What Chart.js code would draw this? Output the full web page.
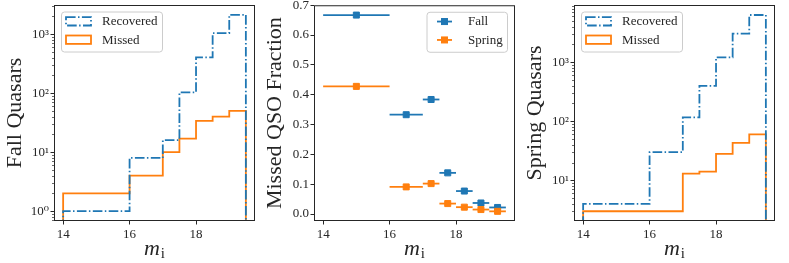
<!DOCTYPE html>
<html>
<head>
<meta charset="utf-8">
<script src="https://cdn.jsdelivr.net/npm/chart.js@4.4.1/dist/chart.umd.min.js"></script>
<style>
  body { margin: 0; background: #fff; width: 789px; height: 263px; position: relative; overflow: hidden; }
  .panel { position: absolute; top: 0; width: 263px; height: 263px; }
</style>
</head>
<body>
<div class="panel" style="left:0px"><canvas id="c-fall" width="263" height="263"></canvas></div>
<div class="panel" style="left:260px"><canvas id="c-frac" width="263" height="263"></canvas></div>
<div class="panel" style="left:520px"><canvas id="c-spring" width="263" height="263"></canvas></div>
<script>
"use strict";

/* ── data ─────────────────────────────────────────────────────── */
const EDGES = [14, 16, 17, 17.5, 18, 18.5, 19, 19.5];
const FALL_RECOVERED = [1, 8, 16, 103, 405, 1040, 2130];
const FALL_MISSED = [2, 4, 10, 17, 34, 40, 50];
const SPRING_RECOVERED = [4, 30, 116, 396, 1210, 3050, 6300];
const SPRING_MISSED = [3, 3, 13, 14, 28, 43, 60];

const BIN_CENTERS = [15, 16.5, 17.25, 17.75, 18.25, 18.75, 19.25];
const BIN_HALF = [1, 0.5, 0.25, 0.25, 0.25, 0.25, 0.25];
const FALL_FRAC = [0.667, 0.333, 0.384, 0.138, 0.077, 0.037, 0.022];
const SPRING_FRAC = [0.428, 0.091, 0.102, 0.035, 0.023, 0.015, 0.009];

const X_TICKS = [14, 16, 18];
const FRAC_TICKS = [0, 0.1, 0.2, 0.3, 0.4, 0.5, 0.6, 0.7];
const X_LIM = [13.725, 19.775];
const FALL_YLIM = [0.682, 3120];
const SPRING_YLIM = [2.05, 9300];
const FRAC_YLIM = [-0.0234, 0.7];

/* ── style ────────────────────────────────────────────────────── */
const BLUE = "#1f77b4";
const ORANGE = "#ff7f0e";
const INK = "#262626";
const LW = 1.8;
const DASHDOT = [9.6, 2.4, 1.5, 2.4];
const FLOOR = 1e-3;   // histogram baseline (0 on a log axis, clipped)
const SERIF = '"Liberation Serif", "DejaVu Serif", serif';
const SUP = { "-": "\u207b", 0: "\u2070", 1: "\u00b9", 2: "\u00b2", 3: "\u00b3", 4: "\u2074",
              5: "\u2075", 6: "\u2076", 7: "\u2077", 8: "\u2078", 9: "\u2079" };

Chart.defaults.font.family = SERIF;
Chart.defaults.color = INK;
Chart.defaults.animation = false;

function stepPoints(edges, counts) {
  const pts = [{ x: edges[0], y: FLOOR }];
  counts.forEach((c, i) => pts.push({ x: edges[i], y: c }, { x: edges[i + 1], y: c }));
  pts.push({ x: edges[edges.length - 1], y: FLOOR });
  return pts;
}

function isPow10(v) {
  const l = Math.log10(v);
  return Math.abs(l - Math.round(l)) < 1e-9;
}

/* ── plugins ──────────────────────────────────────────────────── */
const frame = {
  id: "frame",
  afterDatasetsDraw(chart) {
    const a = chart.chartArea, ctx = chart.ctx;
    ctx.save();
    ctx.strokeStyle = INK;
    ctx.lineWidth = 1;
    ctx.strokeRect(a.left + 0.5, a.top + 0.5, a.right - a.left - 1, a.bottom - a.top - 1);
    // short minor ticks on log axes
    const y = chart.scales.y;
    if (y.type === "logarithmic") {
      ctx.lineWidth = 0.7;
      ctx.beginPath();
      y.ticks.forEach((t) => {
        if (t.major) return;
        const py = Math.round(y.getPixelForValue(t.value)) + 0.5;
        ctx.moveTo(a.left - 2, py); ctx.lineTo(a.left, py);
      });
      ctx.stroke();
    }
    ctx.restore();
  },
};

const xTitle = {
  id: "xTitle",
  afterDraw(chart) {
    const a = chart.chartArea, ctx = chart.ctx;
    ctx.save();
    ctx.fillStyle = INK;
    ctx.textBaseline = "alphabetic";
    ctx.font = "italic 22px " + SERIF;
    const wm = ctx.measureText("m").width;
    ctx.font = "15px " + SERIF;
    const wi = ctx.measureText("i").width;
    const x0 = (a.left + a.right) / 2 - (wm + wi + 1) / 2;
    ctx.font = "italic 22px " + SERIF;
    ctx.fillText("m", x0, 255);
    ctx.font = "15px " + SERIF;
    ctx.fillText("i", x0 + wm + 1, 258);
    ctx.restore();
  },
};

function roundBox(ctx, x, y, w, h, r) {
  ctx.beginPath();
  ctx.moveTo(x + r, y);
  ctx.arcTo(x + w, y, x + w, y + h, r);
  ctx.arcTo(x + w, y + h, x, y + h, r);
  ctx.arcTo(x, y + h, x, y, r);
  ctx.arcTo(x, y, x + w, y, r);
  ctx.closePath();
}

const boxLegend = {
  id: "boxLegend",
  afterDraw(chart, args, opts) {
    const a = chart.chartArea, ctx = chart.ctx;
    const w = opts.width, h = 40;
    const bx = opts.align === "right" ? a.right - 8 - w : a.left + 7;
    const by = a.top + 6.5;
    ctx.save();
    roundBox(ctx, bx + 0.5, by + 0.5, w, h, 3);
    ctx.fillStyle = "rgba(255,255,255,0.8)";
    ctx.fill();
    ctx.strokeStyle = "#cccccc";
    ctx.lineWidth = 1;
    ctx.stroke();
    ctx.font = "13px " + SERIF;
    ctx.textBaseline = "middle";
    chart.data.datasets.forEach((ds, i) => {
      const cy = by + 9.8 + i * 18.4;
      ctx.strokeStyle = ds.borderColor;
      ctx.lineWidth = LW;
      if (opts.kind === "hist") {
        ctx.setLineDash(ds.borderDash || []);
        ctx.strokeRect(bx + 5, cy - 4.2, 25, 8.4);
        ctx.setLineDash([]);
      } else {
        ctx.beginPath();
        ctx.moveTo(bx + 10.5, cy); ctx.lineTo(bx + 25.5, cy);
        ctx.stroke();
        ctx.fillStyle = ds.backgroundColor;
        ctx.lineWidth = 1;
        ctx.fillRect(bx + 15, cy - 3, 6, 6);
        ctx.strokeRect(bx + 15, cy - 3, 6, 6);
      }
      ctx.fillStyle = INK;
      ctx.fillText(ds.label, bx + opts.textX, cy + 0.5);
    });
    ctx.restore();
  },
};

const errorBars = {
  id: "errorBars",
  beforeDatasetsDraw(chart) {
    const { ctx, scales: { x, y } } = chart;
    chart.data.datasets.forEach((ds) => {
      if (!ds.xerr) return;
      ctx.save();
      ctx.strokeStyle = ds.borderColor;
      ctx.lineWidth = LW;
      ds.data.forEach((p, i) => {
        const py = y.getPixelForValue(p.y);
        ctx.beginPath();
        ctx.moveTo(x.getPixelForValue(p.x - ds.xerr[i]), py);
        ctx.lineTo(x.getPixelForValue(p.x + ds.xerr[i]), py);
        ctx.stroke();
      });
      ctx.restore();
    });
  },
};

/* ── shared scale setup ───────────────────────────────────────── */
function xScale() {
  return {
    type: "linear", min: X_LIM[0], max: X_LIM[1],
    afterBuildTicks: (s) => { s.ticks = X_TICKS.map(v => ({ value: v })); },
    afterFit: (s) => { s.height = 42; s.paddingLeft = 0; s.paddingRight = 0; },
    ticks: { autoSkip: false, maxRotation: 0, padding: 2, font: { size: 13 }, callback: (v) => String(v) },
    grid: { drawOnChartArea: false, tickLength: 3.5, tickWidth: 1, tickColor: INK },
    border: { display: false },
  };
}

function yScale(extra, title) {
  return Object.assign({
    afterFit: (s) => { s.width = 54; s.paddingTop = 0; s.paddingBottom = 0; },
    ticks: { autoSkip: false, padding: 1.5, font: { size: 13 } },
    grid: { drawOnChartArea: false, tickLength: 3.5, tickWidth: 1,
            tickColor: (c) => (c.tick && c.tick.major === false) ? "rgba(0,0,0,0)" : INK },
    border: { display: false },
    title: { display: true, text: title, font: { size: 22 }, color: INK, padding: { top: 2, bottom: 0 } },
  }, extra);
}

function logY(lim, title) {
  return yScale({
    type: "logarithmic", min: lim[0], max: lim[1],
    afterBuildTicks: (s) => {
      const ticks = [];
      for (let e = Math.floor(Math.log10(lim[0])); e <= Math.ceil(Math.log10(lim[1])); e++) {
        for (let m = 1; m <= 9; m++) {
          const v = m * Math.pow(10, e);
          if (v >= lim[0] && v <= lim[1]) ticks.push({ value: v, major: m === 1 });
        }
      }
      s.ticks = ticks;
    },
  }, title);
}

function baseOptions(y, legend) {
  return {
    responsive: false,
    layout: { padding: { top: 5, right: 8, bottom: 0, left: 0 } },
    scales: { x: xScale(), y },
    plugins: { legend: { display: false }, tooltip: { enabled: false }, boxLegend: legend },
  };
}

/* ── histogram panels ─────────────────────────────────────────── */
function histChart(id, title, recovered, missed, lim) {
  const y = logY(lim, title);
  y.ticks.callback = (v) => isPow10(v)
    ? "10" + String(Math.round(Math.log10(v))).split("").map(ch => SUP[ch]).join("")
    : "";
  new Chart(document.getElementById(id), {
    type: "line",
    data: {
      datasets: [
        { label: "Recovered", data: stepPoints(EDGES, recovered), borderColor: BLUE,
          borderWidth: LW, borderDash: DASHDOT, pointRadius: 0, tension: 0, fill: false },
        { label: "Missed", data: stepPoints(EDGES, missed), borderColor: ORANGE,
          borderWidth: LW, pointRadius: 0, tension: 0, fill: false },
      ],
    },
    options: baseOptions(y, { kind: "hist", align: "left", width: 101, textX: 41 }),
    plugins: [frame, xTitle, boxLegend],
  });
}

histChart("c-fall", "Fall Quasars", FALL_RECOVERED, FALL_MISSED, FALL_YLIM);
histChart("c-spring", "Spring Quasars", SPRING_RECOVERED, SPRING_MISSED, SPRING_YLIM);

/* ── missed fraction panel ────────────────────────────────────── */
(function () {
  const y = yScale({
    type: "linear", min: FRAC_YLIM[0], max: FRAC_YLIM[1],
    afterBuildTicks: (s) => { s.ticks = FRAC_TICKS.map(v => ({ value: v })); },
  }, "Missed QSO Fraction");
  y.ticks.callback = (v) => v.toFixed(1);
  const pts = (vals) => BIN_CENTERS.map((x, i) => ({ x, y: vals[i] }));
  new Chart(document.getElementById("c-frac"), {
    type: "scatter",
    data: {
      datasets: [
        { label: "Fall", data: pts(FALL_FRAC), xerr: BIN_HALF, backgroundColor: BLUE, borderColor: BLUE,
          pointStyle: "rect", pointRadius: 4.25, pointBorderWidth: 1, order: 1 },
        { label: "Spring", data: pts(SPRING_FRAC), xerr: BIN_HALF, backgroundColor: ORANGE, borderColor: ORANGE,
          pointStyle: "rect", pointRadius: 4.25, pointBorderWidth: 1, order: 0 },
      ],
    },
    options: baseOptions(y, { kind: "marker", align: "right", width: 80.5, textX: 41.5 }),
    plugins: [errorBars, frame, xTitle, boxLegend],
  });
})();
</script>
</body>
</html>
